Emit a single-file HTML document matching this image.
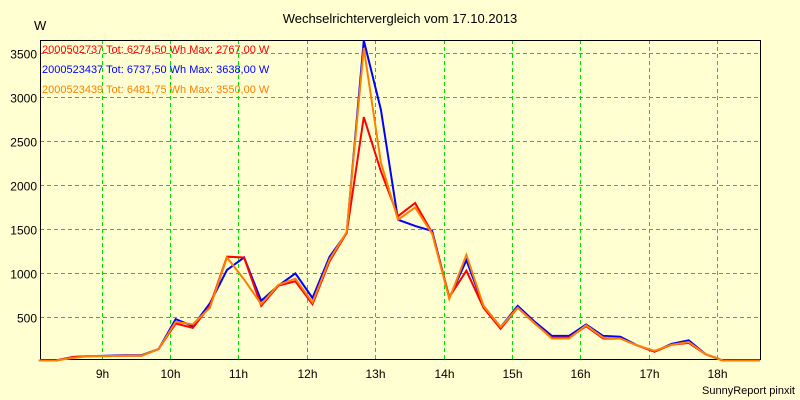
<!DOCTYPE html>
<html><head><meta charset="utf-8"><style>
html,body{margin:0;padding:0;background:#ffffd2;}
svg{display:block;font-family:"Liberation Sans",sans-serif;}
</style></head><body>
<svg id="chart" width="800" height="400" viewBox="0 0 800 400">
<rect x="0" y="0" width="800" height="400" fill="#ffffd2"/>
<text x="400" y="23" text-anchor="middle" font-size="13" fill="#000">Wechselrichtervergleich vom 17.10.2013</text>
<text x="34" y="30" font-size="13" fill="#000">W</text>
<text x="795" y="394" text-anchor="end" font-size="11" fill="#000">SunnyReport pinxit</text>
<g id="grid"></g><g id="axes"></g><g id="series"></g><g id="legend"></g>
</svg>
<script>
const hourTicks = [9,10,11,12,13,14,15,16,17,18];
const yTicks = [500,1000,1500,2000,2500,3000,3500];
const startHour = 8 + 5/60;
const stepHours = 0.25;
const redValues = [0,0,40,50,50,55,55,130,420,370,620,1180,1170,620,850,900,640,1130,1450,2767,2150,1640,1790,1450,720,1020,600,360,600,420,260,260,390,250,250,170,100,180,200,70,0,0,0];
const blueValues = [0,0,40,50,55,60,60,130,470,390,650,1030,1170,680,850,990,710,1180,1450,3638,2850,1600,1530,1470,710,1140,620,380,620,440,280,280,410,280,270,170,100,190,230,70,0,0,0];
const orangeValues = [0,0,30,50,50,55,55,130,440,410,600,1170,920,640,860,930,660,1150,1460,3550,2250,1600,1740,1440,700,1200,620,380,600,420,250,250,400,260,250,170,110,180,210,70,0,0,0];
const legendLabels = ["2000502737  Tot: 6274,50 Wh Max: 2767,00 W","2000523437  Tot: 6737,50 Wh Max: 3638,00 W","2000523439  Tot: 6481,75 Wh Max: 3550,00 W"];

const L=40,R=760,T=40,B=360;
const xS=h=>170+(h-10)*68.4;
const yS=v=>360.5-v*0.088;
const NS="http://www.w3.org/2000/svg";
function mk(tag,attrs,parent){const e=document.createElementNS(NS,tag);for(const k in attrs)e.setAttribute(k,attrs[k]);parent.appendChild(e);return e;}
const grid=document.getElementById('grid'),axes=document.getElementById('axes'),series=document.getElementById('series'),legend=document.getElementById('legend');
hourTicks.forEach(h=>{
  const x=Math.round(xS(h))+0.5;
  const l=mk('line',{x1:x,x2:x,y1:T,y2:B,stroke:'#00e000','stroke-width':1,'stroke-dasharray':'4 3'},grid);
  
  
  const t=mk('text',{x:x,y:378,'text-anchor':'middle','font-size':12,fill:'#000'},axes);
  t.textContent=h+'h';
  
  
});
yTicks.forEach(v=>{
  const y=Math.round(yS(v))+0.5;
  const l=mk('line',{x1:L,x2:R,y1:y,y2:y,stroke:'#00e000','stroke-width':1,'stroke-dasharray':'4 3'},grid);
  
  
  const t=mk('text',{x:37,y:y+5,'text-anchor':'end','font-size':12,fill:'#000'},axes);
  t.textContent=v;
  
  
});
const frame=mk('rect',{x:L+0.5,y:T+0.5,width:R-L,height:B-T-1,fill:'none',stroke:'#000','stroke-width':1},axes);


function pts(vals){return vals.map((v,i)=>xS(startHour+i*stepHours).toFixed(1)+','+yS(v).toFixed(1)).join(' ')+' '+R+','+yS(0).toFixed(1);}
const b=mk('polyline',{points:pts(blueValues),fill:'none',stroke:'#0000ff','stroke-width':2},series);


const r=mk('polyline',{points:pts(redValues),fill:'none',stroke:'#ff0000','stroke-width':2},series);


const o=mk('polyline',{points:pts(orangeValues),fill:'none',stroke:'#ff8000','stroke-width':2},series);


const cols=['#ff0000','#0000ff','#ff8000'];
legendLabels.forEach((s,i)=>{
  const t=mk('text',{x:42,y:53+i*20,'font-size':11,fill:cols[i],'xml:space':'preserve'},legend);
  t.textContent=s;
  
  
});
</script>
</body></html>
